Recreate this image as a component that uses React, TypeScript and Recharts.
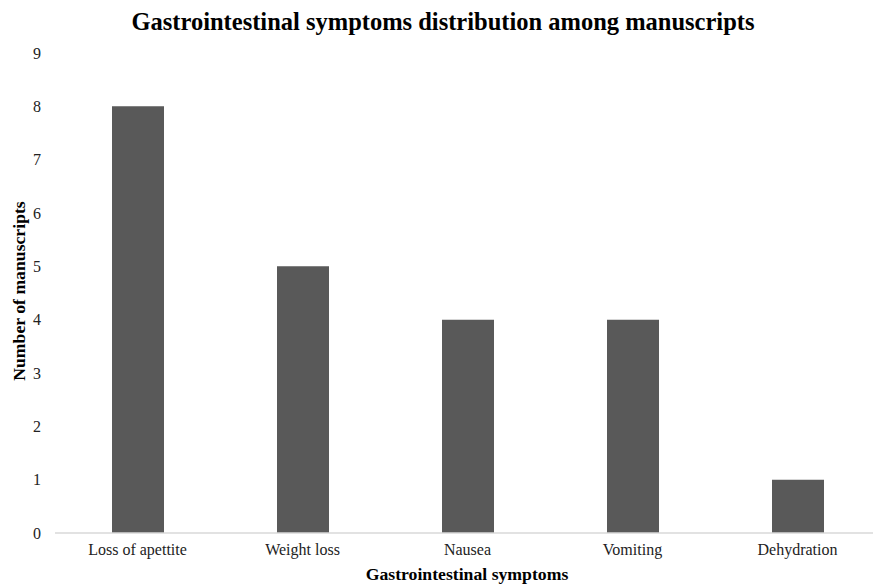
import { BarChart, Bar, XAxis, YAxis } from 'recharts'

const symptoms = ['Loss of apettite', 'Weight loss', 'Nausea', 'Vomiting', 'Dehydration']
const manuscripts = [8, 5, 4, 4, 1]
const yTicks = [0, 1, 2, 3, 4, 5, 6, 7, 8, 9]

const data = symptoms.map((name, i) => ({ name, value: manuscripts[i] }))

const font = '"Liberation Serif", "Times New Roman", serif'

export default function App() {
  return (
    <div style={{ position: 'absolute', left: 0, top: 0, width: 873, height: 587, overflow: 'hidden', background: '#fff', fontFamily: font }}>
      <div style={{ position: 'absolute', left: 0, width: 886, top: 8, textAlign: 'center', fontWeight: 'bold', fontSize: 24.5, color: '#000' }}>
        Gastrointestinal symptoms distribution among manuscripts
      </div>
      <BarChart width={880} height={587} data={data} margin={{ top: 53, right: 0, bottom: 0, left: 0 }}>
        <XAxis
          dataKey="name"
          height={54}
          axisLine={{ stroke: '#d9d9d9', strokeWidth: 1.5 }}
          tickLine={false}
          tickSize={0}
          tickMargin={11}
          tick={{ fill: '#222', fontSize: 16, fontFamily: font }}
          interval={0}
        />
        <YAxis
          width={55}
          domain={[0, 9]}
          ticks={yTicks}
          axisLine={false}
          tickLine={false}
          tickSize={0}
          tickMargin={14}
          tick={{ fill: '#222', fontSize: 16, fontFamily: font }}
        />
        <Bar dataKey="value" fill="#595959" barSize={52} isAnimationActive={false} />
      </BarChart>
      <div style={{ position: 'absolute', left: 0, width: 934, top: 564, textAlign: 'center', fontWeight: 'bold', fontSize: 17.7, color: '#000' }}>
        Gastrointestinal symptoms
      </div>
      <div style={{ position: 'absolute', left: 19, top: 291, transform: 'translate(-50%, -50%) rotate(-90deg)', whiteSpace: 'nowrap', fontWeight: 'bold', fontSize: 17.7, color: '#000' }}>
        Number of manuscripts
      </div>
    </div>
  )
}
